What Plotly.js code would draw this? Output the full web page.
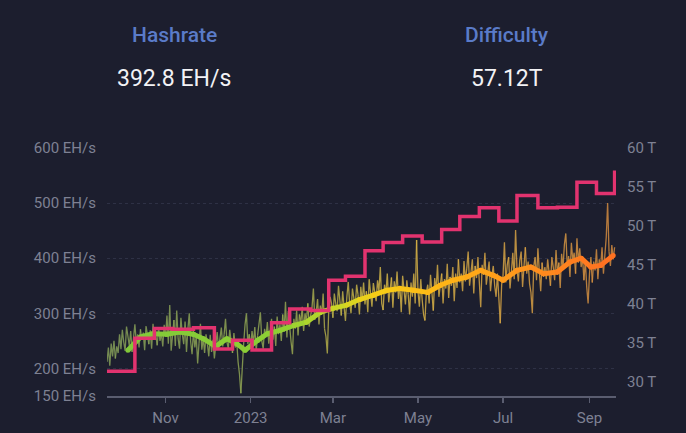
<!DOCTYPE html>
<html>
<head>
<meta charset="utf-8">
<script src="https://cdn.plot.ly/plotly-3.0.1.min.js"></script>
<style>
  html, body { margin: 0; padding: 0; background: #1c1e2e; }
  #chart { width: 686px; height: 433px; }
</style>
</head>
<body>
<div id="chart"></div>
<script>
// ---- data ----
// daily network hashrate, EH/s, one value per day from hashStart
const hashStart = "2022-09-20";
const hashSep22 = [212, 238, 205, 245, 222, 250, 218, 240, 228, 262, 235];
const hashOct22 = [270, 248, 232, 276, 255, 241, 268, 230, 259, 280, 247, 262, 238, 271, 252, 265, 233, 277, 258, 244, 269, 236, 281, 255, 260, 242, 274, 250, 263, 240, 279];
const hashNov22 = [258, 296, 245, 315, 232, 270, 288, 241, 305, 254, 236, 292, 262, 244, 285, 230, 271, 300, 248, 226, 268, 238, 259, 209, 246, 281, 234, 255, 228, 262];
const hashDec22 = [244, 222, 261, 230, 252, 218, 242, 266, 235, 258, 274, 240, 262, 290, 248, 236, 270, 252, 228, 264, 238, 250, 212, 190, 155, 215, 245, 280, 300, 244, 262];
const hashJan23 = [238, 268, 246, 275, 232, 260, 288, 302, 250, 236, 272, 258, 284, 245, 268, 290, 252, 276, 241, 294, 262, 280, 250, 298, 266, 321, 256, 304, 270, 248, 226];
const hashFeb23 = [290, 272, 305, 260, 298, 282, 312, 268, 300, 285, 318, 276, 296, 310, 345, 288, 302, 326, 280, 314, 298, 336, 272, 258, 227, 305, 330, 318];
const hashMar23 = [292, 336, 318, 304, 350, 322, 296, 340, 312, 286, 330, 357, 318, 300, 345, 326, 310, 352, 334, 298, 348, 322, 356, 316, 340, 302, 362, 330, 312, 355, 338];
const hashApr23 = [322, 360, 340, 384, 318, 306, 352, 335, 372, 320, 344, 365, 310, 358, 338, 376, 326, 350, 302, 368, 342, 316, 360, 334, 298, 356, 330, 372, 318, 433];
const hashMay23 = [340, 312, 362, 325, 298, 287, 338, 352, 318, 370, 335, 305, 364, 342, 388, 330, 356, 372, 318, 362, 345, 390, 328, 366, 350, 384, 322, 372, 346, 398, 356];
const hashJun23 = [372, 340, 395, 358, 382, 412, 350, 378, 398, 336, 386, 364, 402, 348, 311, 388, 370, 410, 352, 376, 394, 340, 368, 386, 350, 330, 372, 320, 282, 352];
const hashJul23 = [368, 429, 356, 388, 402, 345, 376, 410, 362, 451, 380, 358, 396, 412, 348, 386, 420, 372, 394, 354, 338, 300, 385, 402, 360, 418, 376, 340, 392, 366, 384];
const hashAug23 = [362, 398, 376, 350, 402, 384, 360, 415, 370, 392, 346, 408, 382, 425, 445, 388, 404, 366, 428, 396, 410, 372, 436, 392, 418, 384, 402, 360, 395, 348, 318];
const hashSep23 = [372, 402, 356, 394, 378, 416, 362, 398, 384, 420, 372, 404, 438, 500, 412, 386, 424, 398, 420];

// smoothed hashrate (thick line)
const smoothDates = ["2022-10-05", "2022-10-14", "2022-10-23", "2022-11-02", "2022-11-11", "2022-11-21", "2022-11-28",
  "2022-12-07", "2022-12-15", "2022-12-22", "2022-12-28", "2023-01-06", "2023-01-13", "2023-01-22", "2023-02-01",
  "2023-02-10", "2023-02-20", "2023-03-01", "2023-03-11", "2023-03-20", "2023-03-30", "2023-04-09", "2023-04-18",
  "2023-04-28", "2023-05-08", "2023-05-17", "2023-05-26", "2023-06-05", "2023-06-15", "2023-06-24", "2023-07-01",
  "2023-07-11", "2023-07-21", "2023-07-30", "2023-08-09", "2023-08-18", "2023-08-26", "2023-09-02", "2023-09-09", "2023-09-18"];
const smoothValues = [233, 257, 263, 262, 266, 262, 254, 240, 254, 245, 233, 251, 263, 269, 278, 284, 302, 309, 315, 325,
  333, 342, 345, 342, 338, 351, 360, 366, 378, 369, 360, 378, 384, 372, 375, 393, 400, 384, 387, 405];

// difficulty adjustments, T
const diffDates = ["2022-09-20", "2022-10-10", "2022-10-24", "2022-11-06", "2022-11-21", "2022-12-06", "2022-12-19",
  "2023-01-02", "2023-01-16", "2023-01-29", "2023-02-13", "2023-02-26", "2023-03-10", "2023-03-24", "2023-04-06",
  "2023-04-20", "2023-05-04", "2023-05-18", "2023-05-31", "2023-06-14", "2023-06-28", "2023-07-11", "2023-07-26",
  "2023-08-09", "2023-08-23", "2023-09-06", "2023-09-19"];
const diffValues = [31.36, 35.61, 36.84, 36.76, 36.95, 34.24, 35.36, 34.09, 37.59, 39.35, 39.16, 43.05, 43.55, 46.84, 47.89,
  48.71, 47.95, 49.55, 51.23, 52.35, 50.65, 53.91, 52.33, 52.39, 55.62, 54.15, 57.12];

const xTickVals = ["2022-11-01", "2023-01-01", "2023-03-01", "2023-05-01", "2023-07-01", "2023-09-01"];
const xTickText = ["Nov", "2023", "Mar", "May", "Jul", "Sep"];
const hashTickVals = [150, 200, 300, 400, 500, 600];
const diffTickVals = [30, 35, 40, 45, 50, 55, 60];

const currentHash = "392.8 EH/s";
const currentDiff = "57.12T";

// ---- helpers ----
const hashDaily = [].concat(hashSep22, hashOct22, hashNov22, hashDec22, hashJan23, hashFeb23,
  hashMar23, hashApr23, hashMay23, hashJun23, hashJul23, hashAug23, hashSep23);
const t0 = Date.parse(hashStart);
const hashDates = hashDaily.map((v, i) => new Date(t0 + i * 86400000).toISOString().slice(0, 10));
const tEnd = Date.parse(hashDates[hashDates.length - 1]);
function frac(d) { return (Date.parse(d) - t0) / (tEnd - t0); }

// colour ramp green -> yellow -> orange along time
const brightStops = [[0, [128, 200, 58]], [0.35, [142, 208, 52]], [0.45, [198, 216, 40]], [0.53, [246, 206, 22]],
  [0.66, [255, 182, 22]], [0.82, [255, 148, 28]], [1, [255, 110, 34]]];
const mutedStops = [[0, [132, 158, 88]], [0.35, [146, 166, 82]], [0.45, [184, 174, 72]], [0.55, [208, 178, 70]],
  [0.8, [214, 162, 68]], [1, [208, 136, 64]]];
function ramp(stops, f) {
  for (let i = 1; i < stops.length; i++) {
    if (f <= stops[i][0]) {
      const a = stops[i - 1], b = stops[i];
      const k = (f - a[0]) / (b[0] - a[0]);
      const c = a[1].map((v, j) => Math.round(v + k * (b[1][j] - v)));
      return "rgb(" + c.join(",") + ")";
    }
  }
  return "rgb(" + stops[stops.length - 1][1].join(",") + ")";
}

const traces = [];

// difficulty step line (right axis)
traces.push({
  x: diffDates, y: diffValues, yaxis: "y2", type: "scatter", mode: "lines",
  line: { shape: "hv", color: "#e2336f", width: 3.5 }, hoverinfo: "skip", showlegend: false
});

// raw daily hashrate, split in short chunks so the colour can shift
const CH = 6;
for (let i = 0; i < hashDaily.length - 1; i += CH) {
  const xs = hashDates.slice(i, i + CH + 1), ys = hashDaily.slice(i, i + CH + 1);
  const mid = xs[Math.floor(xs.length / 2)];
  traces.push({
    x: xs, y: ys, type: "scatter", mode: "lines",
    line: { color: ramp(mutedStops, frac(mid)), width: 1.3 }, opacity: 0.85,
    hoverinfo: "skip", showlegend: false
  });
}

// smoothed hashrate, one segment per pair of points
for (let i = 0; i < smoothDates.length - 1; i++) {
  const c = ramp(brightStops, (frac(smoothDates[i]) + frac(smoothDates[i + 1])) / 2);
  traces.push({
    x: [smoothDates[i], smoothDates[i + 1]], y: [smoothValues[i], smoothValues[i + 1]],
    type: "scatter", mode: "lines+markers",
    line: { color: c, width: 5 }, marker: { color: c, size: 5 },
    hoverinfo: "skip", showlegend: false
  });
}

// ---- layout ----
const M = { l: 107, r: 70, t: 148, b: 37 };
const W = 686, H = 433;
const pw = W - M.l - M.r, ph = H - M.t - M.b;
const px = x => (x - M.l) / pw;          // page px -> paper coords
const py = y => (H - M.b - y) / ph;

const tickFont = { family: "Roboto, Liberation Sans, sans-serif", size: 15, color: "#7e8193" };

const layout = {
  width: W, height: H, margin: M,
  paper_bgcolor: "#1c1e2e", plot_bgcolor: "#1c1e2e",
  showlegend: false,
  xaxis: {
    type: "date", range: ["2022-09-20", "2023-09-20"],
    tickvals: xTickVals, ticktext: xTickText, tickfont: tickFont,
    showgrid: false, zeroline: false,
    showline: true, linecolor: "#5a5d70", linewidth: 2,
    ticks: "outside", ticklen: 5, tickwidth: 1.5, tickcolor: "#5a5d70",
    ticklabelstandoff: 2, fixedrange: true
  },
  yaxis: {
    range: [150, 600], tickvals: hashTickVals, ticktext: hashTickVals.map(v => v + " EH/s"),
    tickfont: tickFont, showgrid: true, gridcolor: "#2e3145", griddash: "dot", gridwidth: 1,
    zeroline: false, showline: false, ticks: "", ticklabelstandoff: 10, fixedrange: true
  },
  yaxis2: {
    overlaying: "y", side: "right", range: [28.2, 60],
    tickvals: diffTickVals, ticktext: diffTickVals.map(v => v + " T"),
    tickfont: tickFont, showgrid: false, zeroline: false, showline: false, ticks: "",
    ticklabelstandoff: 10, fixedrange: true
  },
  annotations: [
    { text: "Hashrate", x: px(174), y: py(35), xref: "paper", yref: "paper", showarrow: false,
      xanchor: "center", yanchor: "middle",
      font: { family: "Roboto, sans-serif", size: 21, color: "#5a7bc8", weight: 500 } },
    { text: currentHash, x: px(174), y: py(78), xref: "paper", yref: "paper", showarrow: false,
      xanchor: "center", yanchor: "middle",
      font: { family: "Roboto, sans-serif", size: 23, color: "#f2f2f5" } },
    { text: "Difficulty", x: px(507), y: py(35), xref: "paper", yref: "paper", showarrow: false,
      xanchor: "center", yanchor: "middle",
      font: { family: "Roboto, sans-serif", size: 21, color: "#5a7bc8", weight: 500 } },
    { text: currentDiff, x: px(507), y: py(78), xref: "paper", yref: "paper", showarrow: false,
      xanchor: "center", yanchor: "middle",
      font: { family: "Roboto, sans-serif", size: 23, color: "#f2f2f5" } }
  ]
};

Plotly.newPlot("chart", traces, layout, { displayModeBar: false, staticPlot: true });
</script>
</body>
</html>
